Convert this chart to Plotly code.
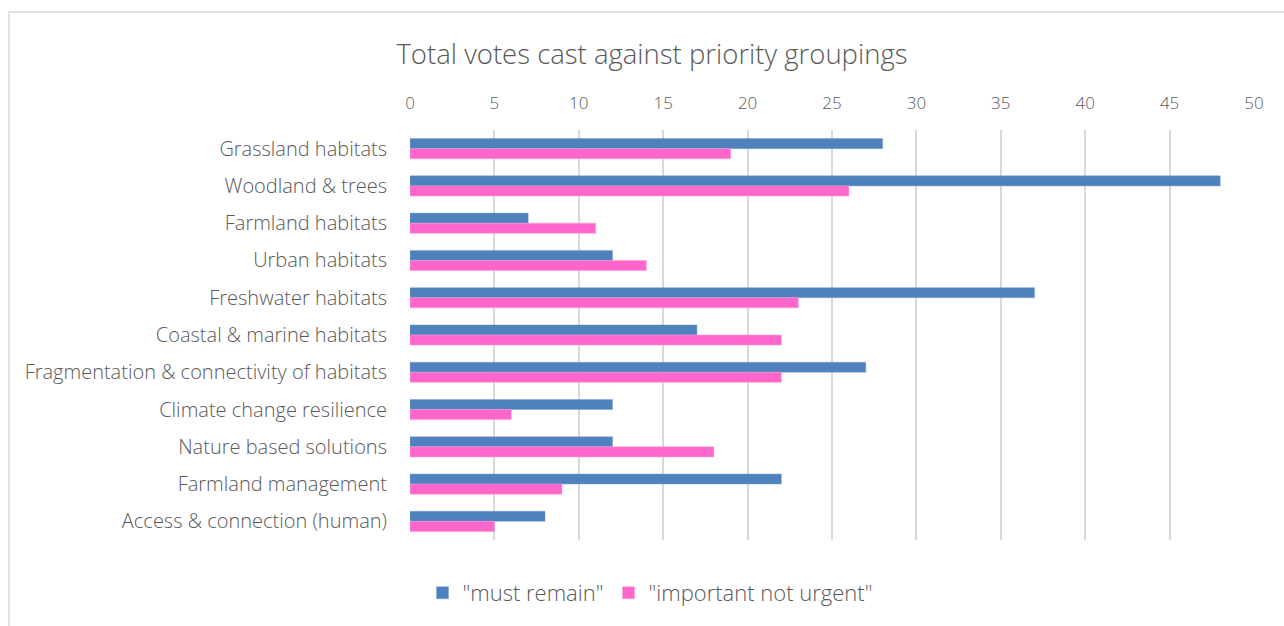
import plotly.graph_objects as go

categories = [
    "Grassland habitats",
    "Woodland & trees",
    "Farmland habitats",
    "Urban habitats",
    "Freshwater habitats",
    "Coastal & marine habitats",
    "Fragmentation & connectivity of habitats",
    "Climate change resilience",
    "Nature based solutions",
    "Farmland management",
    "Access & connection (human)",
]
must_remain = [28, 48, 7, 12, 37, 17, 27, 12, 12, 22, 8]
important_not_urgent = [19, 26, 11, 14, 23, 22, 22, 6, 18, 9, 5]
series_names = ['"must remain"', '"important not urgent"']
x_ticks = [0, 5, 10, 15, 20, 25, 30, 35, 40, 45, 50]

FONT = "Open Sans"
GRAY = "#595959"
WT = 300

fig = go.Figure()
fig.add_trace(go.Bar(y=categories, x=must_remain, orientation="h", name=series_names[0],
                     marker=dict(color="#4F81BD", line=dict(color="#7FA3D0", width=0.5))))
fig.add_trace(go.Bar(y=categories, x=important_not_urgent, orientation="h", name=series_names[1],
                     marker=dict(color="#FF66CC", line=dict(color="#FF99DD", width=0.5))))

L, R, T, B = 410, 30, 130, 86
W, H = 1284, 626
pw, ph = W - L - R, H - T - B

fig.update_layout(
    width=W, height=H,
    margin=dict(l=L, r=R, t=T, b=B),
    paper_bgcolor="white", plot_bgcolor="white",
    barmode="group", bargap=0.46, bargroupgap=0,
    font=dict(family=FONT, color=GRAY, weight=WT),
    title=dict(text="Total votes cast against priority groupings",
               font=dict(size=27.5, color=GRAY, family=FONT, weight=WT),
               x=652 / W, xanchor="center", y=1 - 54 / H, yanchor="middle", xref="container", yref="container"),
    xaxis=dict(side="top", range=[0, 50], tickvals=x_ticks, showgrid=True, gridcolor="#D9D9D9", gridwidth=2,
               zeroline=False, showline=False, ticks="outside", ticklen=13, tickcolor="rgba(0,0,0,0)",
               tickfont=dict(size=17, color=GRAY, family=FONT, weight=WT)),
    yaxis=dict(autorange="reversed", showgrid=False, zeroline=False, showline=False,
               ticks="outside", ticklen=18, tickcolor="rgba(0,0,0,0)",
               tickfont=dict(size=20, color=GRAY, family=FONT, weight=WT)),
    legend=dict(orientation="h", xanchor="center", x=(650 - L) / pw, yanchor="middle", y=(T + ph - 593) / ph,
                font=dict(size=22, color=GRAY, family=FONT, weight=WT), itemwidth=30, traceorder="normal"),
    shapes=[dict(type="rect", xref="paper", yref="paper",
                 x0=(9 - L) / pw, x1=(1300 - L) / pw,
                 y0=(T + ph - 640) / ph, y1=1 + (T - 12) / ph,
                 line=dict(color="#D9D9D9", width=1.5), fillcolor="rgba(0,0,0,0)", layer="below")],
)

fig.write_html("out.html")
